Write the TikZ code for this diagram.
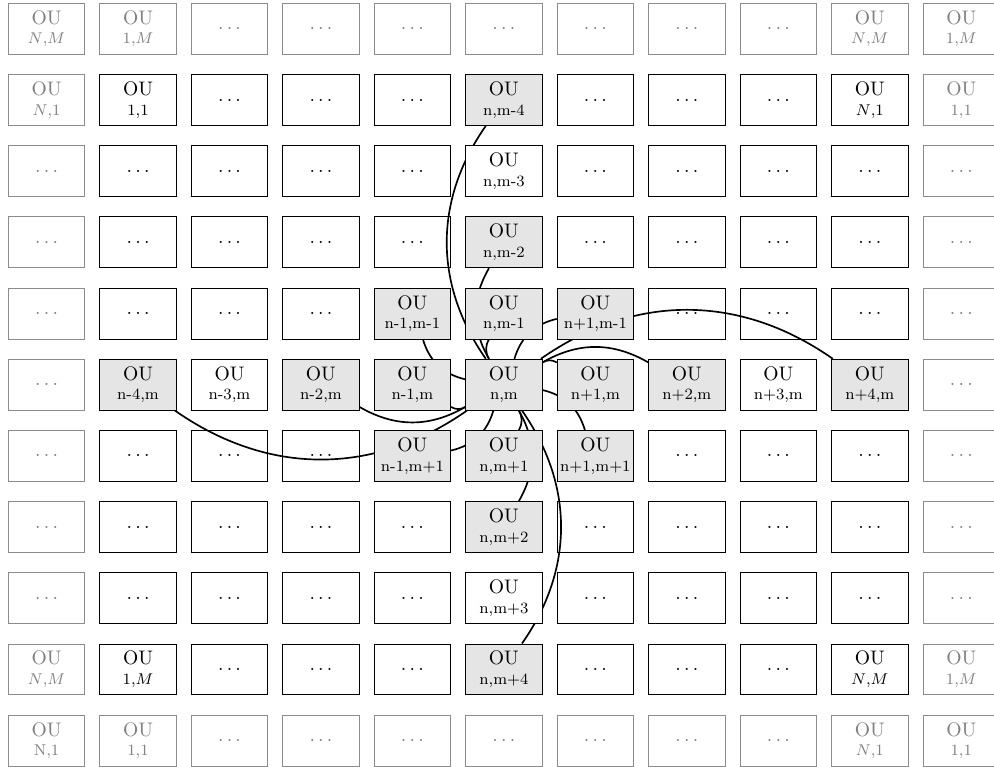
\documentclass[tikz,border=0pt]{standalone}
\usetikzlibrary{backgrounds}
\newcommand\oulabel[1]{OU\\[-2pt]{\footnotesize #1}}
\newcommand\celldots{.\kern1.67pt.\kern1.67pt.}
\begin{document}
\begin{tikzpicture}[
  x=46.65pt, y=-36.30pt,
  cell/.style={draw=black, line width=0.4pt, minimum width=39pt, minimum height=26pt,
               inner sep=0pt, align=center, font=\normalsize},
  ou/.style={cell, fill=white},
  hl/.style={cell, fill=black!10},
  dotcell/.style={cell},
  ghost/.style={cell, draw=black!45, text=black!50},
  link/.style={line width=0.85pt, black},
]
\useasboundingbox (-23.74pt,14.69pt) rectangle (483.2pt,-376.48pt);

% periodic copies around the lattice (outer ring)
\node[ghost] (g-0-0)   at (0,0)   {\oulabel{$N$,$M$}};
\node[ghost] (g-1-0)   at (1,0)   {\oulabel{1,$M$}};
\node[ghost] (g-9-0)   at (9,0)   {\oulabel{$N$,$M$}};
\node[ghost] (g-10-0)  at (10,0)  {\oulabel{1,$M$}};
\node[ghost] (g-0-1)   at (0,1)   {\oulabel{$N$,1}};
\node[ghost] (g-10-1)  at (10,1)  {\oulabel{1,1}};
\node[ghost] (g-0-9)   at (0,9)   {\oulabel{$N$,$M$}};
\node[ghost] (g-10-9)  at (10,9)  {\oulabel{1,$M$}};
\node[ghost] (g-0-10)  at (0,10)  {\oulabel{N,1}};
\node[ghost] (g-1-10)  at (1,10)  {\oulabel{1,1}};
\node[ghost] (g-9-10)  at (9,10)  {\oulabel{$N$,1}};
\node[ghost] (g-10-10) at (10,10) {\oulabel{1,1}};
\foreach \i in {2,...,8}{
  \node[ghost] (g-\i-0)  at (\i,0)  {\celldots};
  \node[ghost] (g-\i-10) at (\i,10) {\celldots};
}
\foreach \j in {2,...,8}{
  \node[ghost] (g-0-\j)  at (0,\j)  {\celldots};
  \node[ghost] (g-10-\j) at (10,\j) {\celldots};
}

% corner cells of the lattice
\node[ou] (g-1-1) at (1,1) {\oulabel{1,1}};
\node[ou] (g-9-1) at (9,1) {\oulabel{$N$,1}};
\node[ou] (g-1-9) at (1,9) {\oulabel{1,$M$}};
\node[ou] (g-9-9) at (9,9) {\oulabel{$N$,$M$}};

% column through (n,m)
\node[hl] (g-5-1) at (5,1) {\oulabel{n,m-4}};
\node[ou] (g-5-2) at (5,2) {\oulabel{n,m-3}};
\node[hl] (g-5-3) at (5,3) {\oulabel{n,m-2}};
\node[hl] (g-5-4) at (5,4) {\oulabel{n,m-1}};
\node[hl] (g-5-5) at (5,5) {\oulabel{n,m}};
\node[hl] (g-5-6) at (5,6) {\oulabel{n,m+1}};
\node[hl] (g-5-7) at (5,7) {\oulabel{n,m+2}};
\node[ou] (g-5-8) at (5,8) {\oulabel{n,m+3}};
\node[hl] (g-5-9) at (5,9) {\oulabel{n,m+4}};

% row through (n,m)
\node[hl] (g-1-5) at (1,5) {\oulabel{n-4,m}};
\node[ou] (g-2-5) at (2,5) {\oulabel{n-3,m}};
\node[hl] (g-3-5) at (3,5) {\oulabel{n-2,m}};
\node[hl] (g-4-5) at (4,5) {\oulabel{n-1,m}};
\node[hl] (g-6-5) at (6,5) {\oulabel{n+1,m}};
\node[hl] (g-7-5) at (7,5) {\oulabel{n+2,m}};
\node[ou] (g-8-5) at (8,5) {\oulabel{n+3,m}};
\node[hl] (g-9-5) at (9,5) {\oulabel{n+4,m}};

% diagonal neighbours
\node[hl] (g-4-4) at (4,4) {\oulabel{n-1,m-1}};
\node[hl] (g-6-4) at (6,4) {\oulabel{n+1,m-1}};
\node[hl] (g-4-6) at (4,6) {\oulabel{n-1,m+1}};
\node[hl] (g-6-6) at (6,6) {\oulabel{n+1,m+1}};

% remaining interior cells
\foreach \i in {1,...,9}{
  \foreach \j in {1,...,9}{
    \pgfmathtruncatemacro\isou{or(or(\i==5,\j==5),
      or(and(or(\i==1,\i==9),or(\j==1,\j==9)),and(or(\i==4,\i==6),or(\j==4,\j==6))))}
    \ifnum\isou=0 \node[dotcell] (g-\i-\j) at (\i,\j) {\celldots};\fi
  }
}

% couplings of (n,m)
\begin{scope}[on background layer]
  \foreach \t in {5-4,5-6,4-5,6-5,4-4,6-4,4-6,6-6,5-3,5-7,3-5,7-5}
    \draw[link] (g-5-5) to[bend left=30] (g-\t);
  \foreach \t in {5-1,5-9,1-5,9-5}
    \draw[link] (g-5-5) to[bend left=35] (g-\t);
\end{scope}
\end{tikzpicture}
\end{document}
